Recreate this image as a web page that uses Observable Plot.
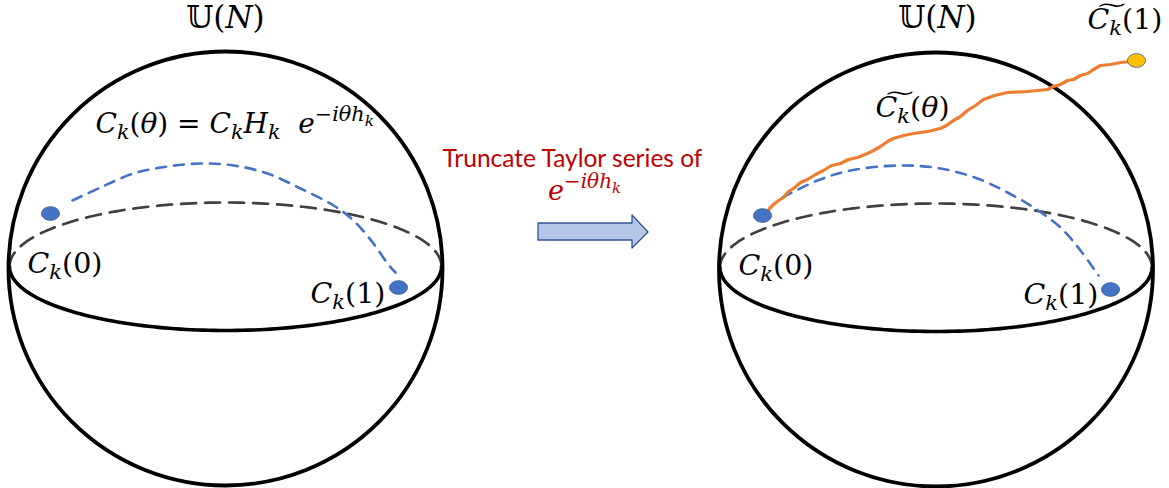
<!DOCTYPE html>
<html><head><meta charset="utf-8">
<script src="https://cdn.jsdelivr.net/npm/d3@7"></script>
<script src="https://cdn.jsdelivr.net/npm/@observablehq/plot@0.6"></script>
<style>html,body{margin:0;padding:0;background:#fff;overflow:hidden}</style>
</head><body><div id="chart"></div>
<script>
// ---- diagram data (pixel space of the 1169x488 picture) ----
const spheres = [{cx: 225, cy: 268, r: 217}, {cx: 935.5, cy: 269, r: 217}];
const equators = [{cx: 225, cy: 266, rx: 216, ry: 64}, {cx: 935.5, cy: 267, rx: 216, ry: 64}];
const geodesicLeft = [[72,200],[100,187],[133,173],[167,166],[200,163],[233,165],[267,173],[300,188],[333,205],[353,220],[373,243],[387,263],[395,272]];
const geodesicRight = [[782,197],[817,180],[850,170],[900,165],[940,168],[977,178],[1007,192],[1033,207],[1060,227],[1080,250],[1098,275]];
const truncatedPath = [[765,215],[769,208],[773,204],[778,200],[783,197],[788,191],[793,188],[800,182],[807,179],[815,174],[823,170],[831,165],[840,163],[848,159],[857,157],[867,153],[873,150],[880,146],[887,141],[893,138],[903,135],[913,133],[927,131],[940,128],[946,125],[953,120],[960,116],[967,110],[975,105],[983,99],[994,95],[1007,92],[1027,91],[1047,89],[1053,86],[1060,84],[1067,80],[1073,79],[1080,75],[1087,73],[1093,69],[1100,65],[1110,64],[1120,62],[1132,61]];
const pointX = [50, 398, 762, 1110, 1136];
const pointY = [213, 287, 215, 289, 60];
const pointFill = ["#4472C4", "#4472C4", "#4472C4", "#4472C4", "#FFC000"];
const arrowX = [538, 632, 632, 648];
const arrowTop = [223, 223, 215, 232];
const arrowBottom = [240, 240, 248, 232];
const mathLabels = [
  {text: "𝕌(*N*)", x: 225, y: 27, anchor: "middle", size: 31},
  {text: "𝕌(*N*)", x: 937, y: 27, anchor: "middle", size: 31},
  {text: "*C*_{*k*}(*θ*) = *C*_{*k*}*H*_{*k*}  *e*^{−*iθh*_{*k*}}", x: 95, y: 132, anchor: "start", size: 28},
  {text: "*C*_{*k*}(0)", x: 27, y: 272, anchor: "start", size: 28.5},
  {text: "*C*_{*k*}(1)", x: 310, y: 302, anchor: "start", size: 28.5},
  {text: "*C*_{*k*}(0)", x: 738, y: 274, anchor: "start", size: 28.5},
  {text: "*C*_{*k*}(1)", x: 1023, y: 303, anchor: "start", size: 28.5},
  {text: "*C͠*_{*k*}(*θ*)", x: 875, y: 116, anchor: "start", size: 28.5},
  {text: "*C͠*_{*k*}(1)", x: 1087, y: 28, anchor: "start", size: 28.5}
];
const redCaption = [{text: "Truncate Taylor series of", x: 572, y: 166, size: 24.5}];
const redMath = [{text: "*e*^{−*iθh*_{*k*}}", x: 584, y: 199, size: 27}];

// ---- helpers ----
function halfEllipse(e, upper) {
  const pts = [];
  for (let i = 0; i <= 120; i++) {
    const a = Math.PI * i / 120;
    pts.push([e.cx - e.rx * Math.cos(a), e.cy + (upper ? -1 : 1) * e.ry * Math.sin(a)]);
  }
  return pts;
}
const ellipseSymbol = {
  draw(ctx, size) {
    const r = Math.sqrt(size / Math.PI), rx = r * 1.25, ry = r * 0.95, k = 0.5523;
    ctx.moveTo(rx, 0);
    ctx.bezierCurveTo(rx, ry * k, rx * k, ry, 0, ry);
    ctx.bezierCurveTo(-rx * k, ry, -rx, ry * k, -rx, 0);
    ctx.bezierCurveTo(-rx, -ry * k, -rx * k, -ry, 0, -ry);
    ctx.bezierCurveTo(rx * k, -ry, rx, -ry * k, rx, 0);
    ctx.closePath();
  }
};
const points = pointX.map((x, i) => ({x, y: pointY[i], fill: pointFill[i]}));
const arrow = arrowX.map((x, i) => ({x, y1: arrowTop[i], y2: arrowBottom[i]}));
const serif = "'DejaVu Serif', serif";

const marks = [];
for (const e of equators) {
  marks.push(Plot.line(halfEllipse(e, false), {x: d => d[0], y: d => d[1], stroke: "#000", strokeWidth: 3.6}));
  marks.push(Plot.line(halfEllipse(e, true), {x: d => d[0], y: d => d[1], stroke: "#404040", strokeWidth: 2.7, strokeDasharray: "15,9"}));
}
marks.push(Plot.dot(spheres, {x: "cx", y: "cy", r: "r", stroke: "#000", strokeWidth: 3.8, fill: "none"}));
for (const g of [geodesicLeft, geodesicRight]) {
  marks.push(Plot.line(g, {x: d => d[0], y: d => d[1], stroke: "#4472C4", strokeWidth: 2.6, strokeDasharray: "10,8", curve: "catmull-rom"}));
}
marks.push(Plot.line(truncatedPath, {x: d => d[0], y: d => d[1], stroke: "#ED7D31", strokeWidth: 3.2, curve: "linear", strokeLinejoin: "round", strokeLinecap: "round"}));
marks.push(Plot.dot(points, {x: "x", y: "y", fill: "fill", stroke: "#2F5597", strokeWidth: 0.8, r: 7.2, symbol: ellipseSymbol}));
marks.push(Plot.area(arrow, {x1: "x", y1: "y1", y2: "y2", fill: "#B4C7E7", stroke: "#2F5597", strokeWidth: 1.3}));
for (const d of mathLabels) {
  marks.push(Plot.text([d], {x: "x", y: "y", text: "text", textAnchor: d.anchor, lineAnchor: "bottom", fontSize: d.size, fontFamily: serif, fill: "#000"}));
}
marks.push(Plot.text(redCaption, {x: "x", y: "y", text: "text", textAnchor: "middle", lineAnchor: "bottom", fontSize: redCaption[0].size, fontFamily: "Lato, 'Open Sans', sans-serif", fill: "#C00000"}));
marks.push(Plot.text(redMath, {x: "x", y: "y", text: "text", textAnchor: "middle", lineAnchor: "bottom", fontSize: redMath[0].size, fontFamily: serif, fill: "#C00000"}));

const svg = Plot.plot({
  width: 1169, height: 488, margin: 0,
  x: {domain: [0, 1169], range: [0, 1169], axis: null},
  y: {domain: [0, 488], range: [0, 488], axis: null},
  r: {type: "identity"},
  color: {type: "identity"},
  style: {background: "#fff", overflow: "visible"},
  marks
});
document.getElementById("chart").appendChild(svg);

// ---- rich text: *italic*, _{sub}, ^{sup} ----
function parse(src) {
  const runs = [], stack = []; let italic = false, buf = "";
  const flush = () => { if (buf) { runs.push({text: buf, italic, levels: stack.slice()}); buf = ""; } };
  for (let i = 0; i < src.length; i++) {
    const c = src[i];
    if ((c === "_" || c === "^") && src[i + 1] === "{") { flush(); stack.push(c); i++; }
    else if (c === "}" && stack.length) { flush(); stack.pop(); }
    else if (c === "*") { flush(); italic = !italic; }
    else buf += c;
  }
  flush();
  return runs;
}
svg.querySelectorAll("text").forEach(t => {
  const src = t.textContent;
  if (!/[*_^]/.test(src)) return;
  const S = parseFloat(getComputedStyle(t).fontSize);
  while (t.firstChild) t.removeChild(t.firstChild);
  t.style.whiteSpace = "pre";
  let prev = 0;
  for (const run of parse(src)) {
    let shift = 0, scale = 1;
    for (const l of run.levels) {
      if (l === "^") shift -= 0.42 * scale * S; else shift += 0.24 * scale * S;
      scale *= 0.74;
    }
    const ts = document.createElementNS("http://www.w3.org/2000/svg", "tspan");
    ts.textContent = run.text;
    if (run.italic) ts.setAttribute("font-style", "italic");
    ts.setAttribute("font-size", (S * scale).toFixed(2));
    if (shift !== prev) ts.setAttribute("dy", (shift - prev).toFixed(2));
    prev = shift;
    t.appendChild(ts);
  }
});
</script></body></html>
